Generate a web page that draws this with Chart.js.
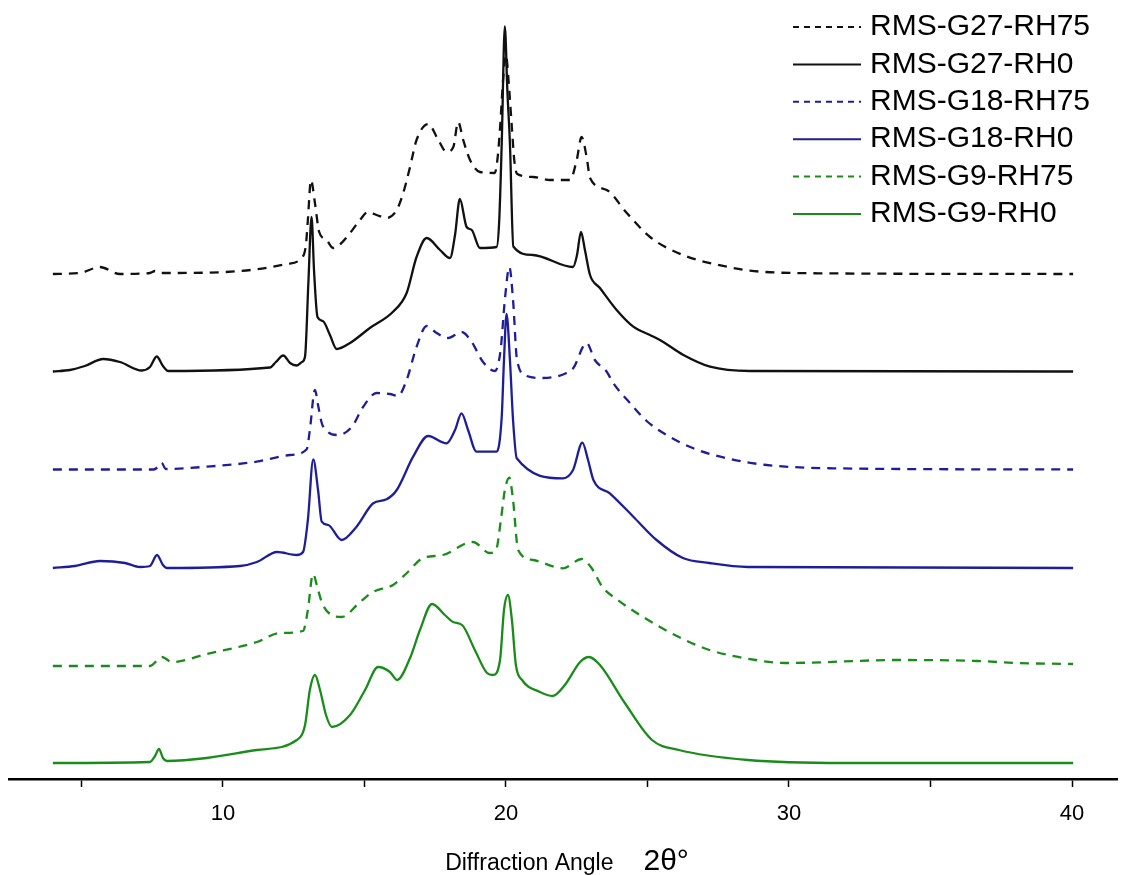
<!DOCTYPE html>
<html>
<head>
<meta charset="utf-8">
<script src="https://cdn.jsdelivr.net/npm/chart.js@4.4.0/dist/chart.umd.min.js"></script>
<style>
  html, body { margin: 0; padding: 0; background: #fff; }
  #wrap { width: 1135px; height: 875px; }
</style>
</head>
<body>
<div id="wrap"><canvas id="xrd"></canvas></div>
<script>
// Series labels (legend order, top to bottom)
const seriesNames = ['RMS-G27-RH75', 'RMS-G27-RH0', 'RMS-G18-RH75', 'RMS-G18-RH0', 'RMS-G9-RH75', 'RMS-G9-RH0'];
// vertical stacking offset of each pattern
const offsets = [505, 407.5, 309.5, 211, 113, 16];
const tickLabels = [10, 20, 30, 40];

// [2theta, intensity]
const G27_RH75 = [[3.99,0],[4.95,1],[5.65,7],[6.36,0],[7.42,1],[7.6,3],[7.77,1],[9.42,1.3],[11.19,4.7],[12.25,10],[12.78,16],[12.93,29],[13.0,54],[13.11,94],[13.25,71],[13.4,42],[13.66,34],[13.89,26],[14.15,30],[14.49,41],[14.84,54],[15.12,62],[15.43,59],[15.78,56],[16.14,64],[16.37,81],[16.61,107],[16.84,134],[17.25,150],[17.61,134],[17.9,122],[18.14,127],[18.31,152],[18.49,134],[18.73,114],[19.08,102],[19.6,101],[19.7,115],[19.8,150],[19.9,195],[20.0,219],[20.1,190],[20.2,150],[20.3,112],[20.4,100],[20.96,97],[21.55,94],[22.26,94],[22.5,114],[22.67,137],[22.85,117],[22.97,96],[23.56,84],[24.27,61],[25.09,37],[26.25,19],[27.8,7.3],[28.62,3.3],[31.1,0.7],[40.04,0]];
const G27_RH0 = [[3.99,0],[4.59,1.5],[5.12,5.5],[5.77,12.5],[6.36,9.5],[7.13,1],[7.42,4.5],[7.66,15],[7.88,5.5],[8.07,0.5],[11.66,4],[11.87,9.5],[12.13,16],[12.37,8.5],[12.6,6],[12.79,9.5],[12.9,15],[13.02,90],[13.13,154.5],[13.22,100],[13.34,54.5],[13.53,50.5],[13.78,36.5],[14.02,22.5],[14.49,28.5],[15.19,43.5],[16.0,59.5],[16.49,78.5],[16.84,114.5],[17.2,133.5],[17.67,121.5],[18.02,113.5],[18.2,136.5],[18.37,172.5],[18.61,144.5],[18.79,141.5],[19.08,123.5],[19.67,124.5],[19.76,150],[19.85,228],[19.96,345],[20.05,280],[20.14,228],[20.26,125],[20.95,116.5],[22.37,104.5],[22.51,116.5],[22.65,139.5],[22.79,121.5],[22.97,96.5],[23.32,83.5],[23.91,61.5],[24.5,44.8],[25.09,36.5],[25.44,31.5],[26.27,16.5],[27.21,4.8],[28.62,0.5],[40.04,0]];
const G18_RH75 = [[3.99,0],[7.55,0],[7.68,2],[7.83,6.8],[7.98,0.5],[9.42,2.8],[11.19,7.8],[12.37,14.5],[12.96,20.2],[13.07,39.5],[13.25,79.5],[13.36,64.5],[13.49,46.5],[13.71,37.5],[14.06,34.5],[14.55,42.5],[14.95,62.5],[15.43,76.5],[15.9,75.5],[16.18,73.5],[16.49,89.5],[16.84,122.5],[17.2,143.5],[17.55,136.5],[17.95,131.5],[18.43,137.5],[18.79,127.5],[19.19,107.5],[19.61,98.5],[19.81,119.5],[19.96,169.5],[20.12,202.5],[20.25,169.5],[20.39,109.5],[20.73,93.5],[21.32,91.5],[22.14,96.5],[22.38,101.5],[22.85,126.5],[23.14,109.5],[23.56,97.8],[23.79,86.5],[24.38,66.5],[24.97,48.5],[25.68,34.5],[26.62,21.2],[27.8,11.2],[29.21,4.5],[31.55,1.2],[40.04,0]];
const G18_RH0 = [[3.99,0],[4.77,2],[5.65,7],[6.54,5],[7.07,1],[7.42,2],[7.67,13],[7.88,3],[8.02,0],[10.6,2],[11.2,6],[11.91,16],[12.61,13],[12.83,16],[13.0,48],[13.19,108.7],[13.36,78],[13.49,46.3],[13.72,43],[14.19,28],[14.72,41.3],[15.31,64.7],[15.78,68.7],[16.14,78],[16.72,111.3],[17.25,132],[17.9,124.7],[18.2,138],[18.43,154.7],[18.66,138],[18.96,116.3],[19.67,116.3],[19.85,151.3],[19.93,208],[20.02,254],[20.14,208],[20.25,148],[20.38,109.7],[22.02,89.7],[22.37,98],[22.7,125.3],[22.9,108],[23.09,88],[23.67,74.7],[24.5,51.3],[25.32,28],[26.25,10],[27.19,5],[28.55,1],[40.04,0]];
const G9_RH75 = [[3.99,0],[7.42,0],[7.84,9],[8.2,4],[9.43,12],[11.2,24],[12.01,33],[12.83,35],[13.0,56],[13.18,92],[13.36,76],[13.53,61],[14.2,49],[14.84,64],[15.3,74],[16.01,81],[16.5,93],[17.07,108],[17.77,111],[18.62,123],[18.83,124],[19.43,113],[19.65,116],[19.82,146],[19.96,176],[20.12,188.3],[20.25,166],[20.43,116],[20.96,106],[22.02,97.7],[22.67,107],[23.0,99],[23.41,79],[23.95,66],[25.02,46],[26.11,29],[27.19,16],[28.82,6],[29.89,3],[33.82,6],[36.66,5],[38.02,3],[40.04,2]];
const G9_RH0 = [[3.99,0],[7.42,1],[7.6,7],[7.74,14],[7.88,5],[8.02,2],[9.43,5],[11.2,13],[12.61,23],[12.9,38],[13.07,73],[13.25,88],[13.43,73],[13.64,48],[13.85,36],[14.49,48],[15.02,73],[15.48,96],[15.9,91],[16.15,83],[16.61,105],[16.96,133],[17.39,159],[17.84,148],[18.13,141],[18.45,138],[18.9,113],[19.33,90],[19.54,88],[19.79,103],[19.93,153],[20.07,168],[20.21,143],[20.35,98],[20.57,83],[21.2,71],[21.65,67],[22.08,78],[22.62,101],[22.93,106],[23.32,98],[24.2,60],[25.16,23],[26.11,13],[28.55,3],[31.93,0],[40.04,0]];

const patterns = [G27_RH75, G27_RH0, G18_RH75, G18_RH0, G9_RH75, G9_RH0];
const colors = ['#111111', '#111111', '#1e1e98', '#1e1e98', '#1a8c1a', '#1a8c1a'];
const dashed = [true, false, true, false, true, false];

const FONT = '"Liberation Sans", Arial, sans-serif';

const datasets = patterns.map((pts, i) => ({
    label: seriesNames[i],
    data: pts.map(p => ({ x: p[0], y: p[1] + offsets[i] })),
    borderColor: colors[i],
    borderWidth: 2.3,
    borderDash: dashed[i] ? [9, 7] : [],
    pointRadius: 0,
    cubicInterpolationMode: 'monotone',
    fill: false
}));

// legend drawn in the upper right corner, over the plot
const cornerLegend = {
    id: 'cornerLegend',
    afterDatasetsDraw(chart) {
        const ctx = chart.ctx;
        ctx.save();
        ctx.font = '30px ' + FONT;
        ctx.textBaseline = 'middle';
        ctx.textAlign = 'left';
        chart.data.datasets.forEach((ds, i) => {
            const y = 27 + i * 37.4;
            ctx.strokeStyle = ds.borderColor;
            ctx.lineWidth = 2;
            ctx.setLineDash(ds.borderDash.length ? [6, 5] : []);
            ctx.beginPath();
            ctx.moveTo(793, y);
            ctx.lineTo(861, y);
            ctx.stroke();
            ctx.fillStyle = '#000';
            ctx.fillText(ds.label, 870, y);
        });
        ctx.restore();
    }
};

// axis title with the larger 2θ symbol
const axisTitle = {
    id: 'axisTitle',
    afterDraw(chart) {
        const ctx = chart.ctx;
        const a = chart.chartArea;
        const part1 = 'Diffraction Angle';
        const part2 = '2θ°';
        ctx.save();
        ctx.fillStyle = '#000';
        ctx.textBaseline = 'alphabetic';
        ctx.font = '23px ' + FONT;
        const w1 = ctx.measureText(part1).width;
        ctx.font = '30px ' + FONT;
        const w2 = ctx.measureText(part2).width;
        const gap = 30;
        const x0 = (a.left + a.right) / 2 + 4 - (w1 + gap + w2) / 2;
        ctx.font = '23px ' + FONT;
        ctx.fillText(part1, x0, 870);
        ctx.font = '30px ' + FONT;
        ctx.fillText(part2, x0 + w1 + gap, 870);
        ctx.restore();
    }
};

new Chart(document.getElementById('xrd'), {
    type: 'line',
    data: { datasets },
    options: {
        responsive: true,
        maintainAspectRatio: false,
        animation: false,
        layout: { padding: { left: 9, right: 18, top: 0, bottom: 0 } },
        plugins: {
            legend: { display: false },
            tooltip: { enabled: false }
        },
        scales: {
            x: {
                type: 'linear',
                min: 2.44,
                max: 41.59,
                border: { display: true, color: '#000', width: 2.5 },
                grid: {
                    display: true,
                    drawOnChartArea: false,
                    drawTicks: true,
                    tickLength: 8,
                    tickColor: '#000',
                    tickWidth: 1.5
                },
                ticks: {
                    stepSize: 5,
                    includeBounds: false,
                    autoSkip: false,
                    maxRotation: 0,
                    padding: 14,
                    color: '#000',
                    font: { family: FONT, size: 22 },
                    callback: v => tickLabels.includes(v) ? String(v) : ''
                },
                afterFit: scale => { scale.height = 96; }
            },
            y: {
                display: false,
                min: 0,
                max: 779
            }
        }
    },
    plugins: [cornerLegend, axisTitle]
});
</script>
</body>
</html>
